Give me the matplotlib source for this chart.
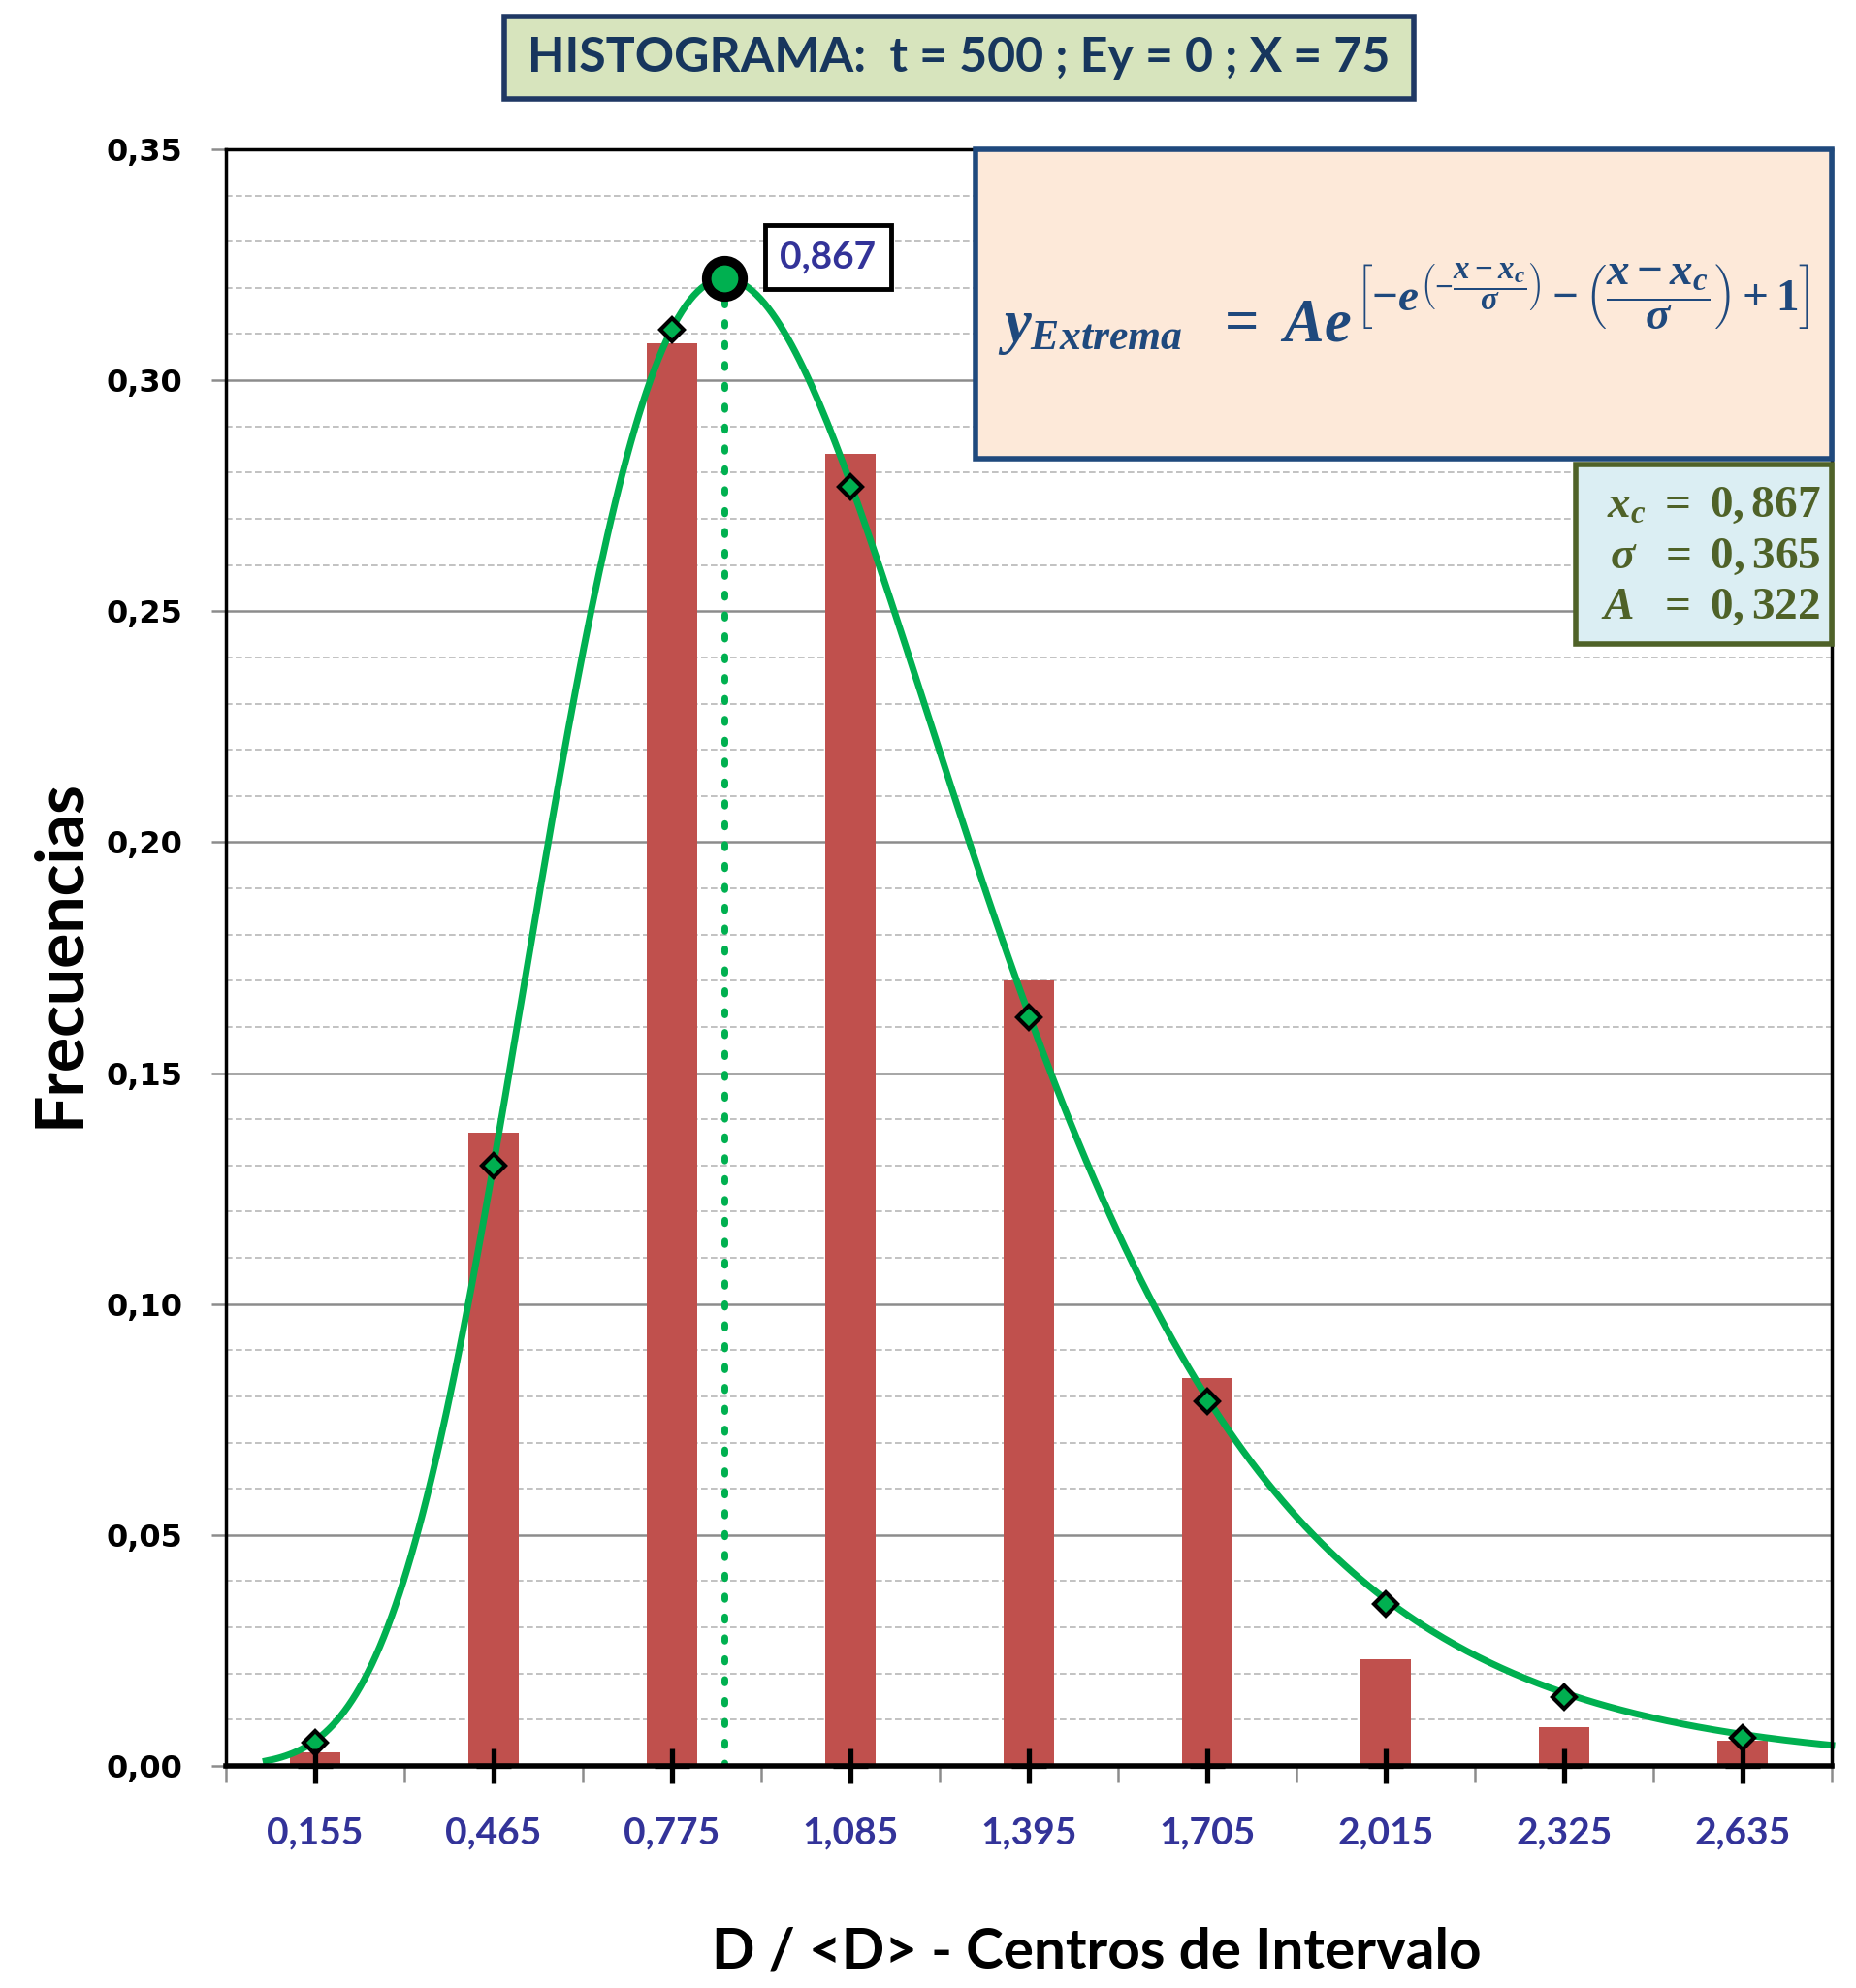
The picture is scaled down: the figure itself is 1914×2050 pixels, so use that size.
import matplotlib.pyplot as plt
import numpy as np
from matplotlib.patches import Rectangle
from matplotlib.ticker import FixedLocator, MultipleLocator

# --- datos ---
centros = [0.155, 0.465, 0.775, 1.085, 1.395, 1.705, 2.015, 2.325, 2.635]
etiquetas_x = ["0,155", "0,465", "0,775", "1,085", "1,395", "1,705", "2,015", "2,325", "2,635"]
frecuencias = [0.003, 0.137, 0.308, 0.284, 0.170, 0.084, 0.023, 0.0085, 0.0055]
puntos_ajuste = [0.005, 0.130, 0.311, 0.277, 0.162, 0.079, 0.035, 0.015, 0.006]
y_ticks = [0.00, 0.05, 0.10, 0.15, 0.20, 0.25, 0.30, 0.35]
etiquetas_y = ["0,00", "0,05", "0,10", "0,15", "0,20", "0,25", "0,30", "0,35"]

# parametros del ajuste (Extrema / Gumbel)
xc = 0.867
sigma = 0.365
A = 0.322
x_ini, x_fin = 0.07, 2.79
ancho_intervalo = 0.31

titulo = "HISTOGRAMA:  t = 500 ; Ey = 0 ; X = 75"

plt.rcParams["mathtext.fontset"] = "custom"
plt.rcParams["mathtext.it"] = "Liberation Serif:italic:bold"
plt.rcParams["mathtext.rm"] = "Liberation Serif:bold"
plt.rcParams["mathtext.bf"] = "Liberation Serif:bold"

VERDE = "#00b050"
ROJO = "#c0504d"
AZUL_ETQ = "#333399"

fig = plt.figure(figsize=(19.14, 20.5), dpi=100)
ax = fig.add_axes([0.1216, 0.1117, 0.8653, 0.8132])

# barras del histograma
ax.bar(centros, frecuencias, width=0.285 * ancho_intervalo, color=ROJO, zorder=3)

# curva ajustada
xs = np.linspace(x_ini, x_fin, 400)
z = (xs - xc) / sigma
ys = A * np.exp(-np.exp(-z) - z + 1)
ax.plot(xs, ys, color=VERDE, lw=5, zorder=4, clip_on=False)

# puntos del ajuste en los centros
ax.plot(centros, puntos_ajuste, ls="none", marker="D", ms=12, mfc=VERDE,
        mec="black", mew=3, zorder=6)

# cruces sobre el eje
ax.plot(centros, [0] * len(centros), ls="none", marker="+", ms=26, mec="black",
        mew=3.8, zorder=7, clip_on=False)

# linea vertical en el maximo
ax.plot([xc, xc], [0, A], color=VERDE, lw=5, ls=(0, (0.5, 2.6)),
        dash_capstyle="round", zorder=4)
ax.plot([xc], [A], ls="none", marker="o", ms=27, mfc=VERDE, mec="black",
        mew=7, zorder=8)
ax.text(1.046, 0.3267, "0,867", fontsize=28, fontweight="bold", color=AZUL_ETQ,
        family="Lato", ha="center", va="center", zorder=9,
        bbox=dict(boxstyle="square,pad=0.4", fc="white", ec="black", lw=3.5))

ax.set_xlim(0, 9 * ancho_intervalo)
ax.set_ylim(0, 0.35)

# rejilla
ax.yaxis.set_major_locator(FixedLocator(y_ticks))
ax.yaxis.set_minor_locator(MultipleLocator(0.01))
ax.grid(axis="y", which="major", color="#8c8c8c", lw=1.8, zorder=0)
ax.grid(axis="y", which="minor", color="#b8b8b8", lw=1.2, ls=(0, (4, 2)), zorder=0)

ax.set_yticklabels(etiquetas_y)
ax.tick_params(axis="y", which="major", length=11, width=1.8, color="#8c8c8c",
               labelsize=23, pad=21)
ax.tick_params(axis="y", which="minor", length=0)
for lbl in ax.get_yticklabels():
    lbl.set_fontweight("bold")

ax.set_xticks(centros)
ax.set_xticklabels(etiquetas_x, fontsize=28, fontweight="bold", color=AZUL_ETQ,
                   family="Lato")
ax.tick_params(axis="x", which="major", length=0, pad=37)
ax.xaxis.set_minor_locator(FixedLocator([i * ancho_intervalo for i in range(10)]))
ax.tick_params(axis="x", which="minor", length=12, width=1.8, color="#8c8c8c")

for s in ["left", "top", "right"]:
    ax.spines[s].set_linewidth(2.5)
ax.spines["bottom"].set_linewidth(4)
for s in ax.spines.values():
    s.set_zorder(5)

# recuadro de la formula
ax.add_patch(Rectangle((0.467, 0.8086), 0.533, 0.1914, transform=ax.transAxes,
                       fc="#fde9d9", ec="#1f497d", lw=4, zorder=10, clip_on=False))
ax.text(0.481, 0.881, r"$y_{Extrema}\ \ =\ Ae$", transform=ax.transAxes,
        fontsize=45, color="#1f497d", ha="left", va="baseline", zorder=11)
exponente = (r"$\left[-e^{\left(-\dfrac{x-x_c}{\sigma}\right)}"
             r"-\left(\dfrac{x-x_c}{\sigma}\right)+1\right]$")
ax.text(0.703, 0.909, exponente, transform=ax.transAxes, fontsize=34,
        color="#1f497d", ha="left", va="center", zorder=11)

# recuadro de parametros
ax.add_patch(Rectangle((0.8406, 0.694), 0.1594, 0.111, transform=ax.transAxes,
                       fc="#dbeef3", ec="#4f6228", lw=4, zorder=10, clip_on=False))
parametros = [r"$x_c\ =\ 0,867$", r"$\sigma\ \ =\ 0,365$", r"$A\ \ =\ 0,322$"]
for i, p in enumerate(parametros):
    ax.text(0.993, 0.780 - i * 0.0315, p, transform=ax.transAxes, fontsize=34,
            color="#4f6228", ha="right", va="center", zorder=11)

# titulo en recuadro
fig.patches.append(Rectangle((0.2717, 0.9502), 0.4901, 0.0415,
                             transform=fig.transFigure, fc="#d7e4bd",
                             ec="#1f3864", lw=4))
fig.text(0.5167, 0.971, titulo, fontsize=36, fontweight="bold", color="#17365d",
         family="Lato", ha="center", va="center")

# titulos de ejes
fig.text(0.591, 0.018, "D / <D> - Centros de Intervalo", fontsize=42,
         fontweight="bold", family="Lato", ha="center", va="center")
fig.text(0.032, 0.5205, "Frecuencias", fontsize=49, fontweight="bold",
         family="Lato", rotation=90, ha="center", va="center")

fig.savefig("out.png", dpi=100)
